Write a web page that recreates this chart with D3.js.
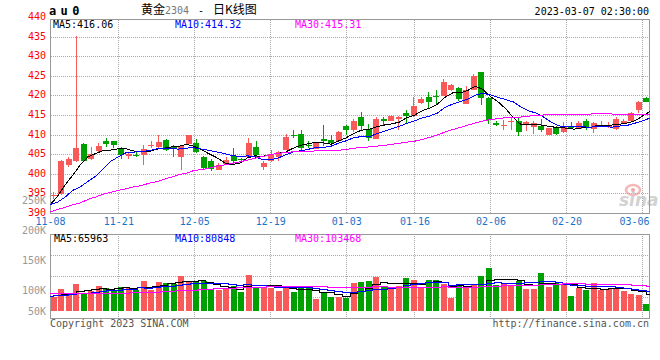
<!DOCTYPE html>
<html><head><meta charset="utf-8">
<script src="https://cdn.jsdelivr.net/npm/d3@7"></script>
<style>html,body{margin:0;padding:0;background:#fff;}svg{display:block;}</style>
</head><body>
<script>
// ---------- DATA ----------
const dates = ["11-08","11-09","11-10","11-11","11-14","11-15","11-16","11-17","11-18","11-21","11-22","11-23","11-24","11-25","11-28","11-29","11-30",
"12-01","12-02","12-05","12-06","12-07","12-08","12-09","12-12","12-13","12-14","12-15","12-16","12-19","12-20","12-21","12-22","12-23","12-26","12-27","12-28","12-29","12-30",
"01-03","01-04","01-05","01-06","01-09","01-10","01-11","01-12","01-13","01-16","01-17","01-18","01-19","01-20","01-30","01-31",
"02-01","02-02","02-03","02-06","02-07","02-08","02-09","02-10","02-13","02-14","02-15","02-16","02-17","02-20","02-21","02-22","02-23","02-24","02-27","02-28",
"03-01","03-02","03-03","03-06","03-07"];
const tickLabels = ["11-08","11-21","12-05","12-19","01-03","01-16","02-06","02-20","03-06"];
const priceTicks = [390,395,400,405,410,415,420,425,430,435,440];
const volTicks = [250000,200000,150000,100000,50000];

const open  = [394.5,394.9,402.4,403.4,407.7,403.8,405.9,408.6,408.4,406.8,404.6,405.0,404.9,407.1,407.0,408.7,407.0,404.4,407.8,408.1,
404.4,403.5,401.2,402.7,404.7,403.9,404.5,407.0,401.9,403.3,404.5,406.3,410.1,410.4,407.6,406.5,409.0,408.7,408.6,412.2,
411.2,414.6,411.6,409.0,414.1,413.7,414.0,415.6,414.8,418.1,419.8,420.1,420.1,421.5,421.9,417.9,421.6,426.0,419.5,413.2,
412.4,413.5,413.5,412.5,412.0,412.4,410.1,411.8,410.7,412.4,411.6,413.7,411.6,412.1,412.0,411.6,413.1,413.7,416.4,419.5];
const high  = [395.6,403.6,404.5,435.4,407.9,407.0,407.9,409.2,408.6,407.0,405.6,405.6,407.5,408.4,410.1,409.1,407.6,407.5,410.1,409.1,
404.7,403.9,402.8,404.4,406.6,404.2,409.3,408.4,403.3,406.3,405.9,410.4,411.4,411.4,408.6,408.0,412.7,410.0,411.0,412.5,
414.0,416.0,412.9,414.7,414.6,415.2,414.8,416.5,419.6,419.7,421.1,421.6,424.4,423.0,422.3,422.6,425.5,426.2,419.7,413.5,
413.8,414.4,414.4,413.7,413.5,414.2,411.9,412.3,413.3,413.3,413.5,414.2,413.4,413.5,413.4,414.6,414.1,415.9,418.8,419.6];
const low   = [393.7,394.8,401.9,403.2,403.2,403.7,405.7,407.0,406.7,403.9,403.9,404.3,402.5,406.7,406.7,406.0,404.5,401.1,407.6,405.4,
401.2,400.8,401.1,402.3,402.7,403.3,404.2,404.4,401.2,403.2,403.4,406.2,409.3,406.3,406.8,406.5,407.3,407.6,408.4,409.9,
410.8,411.3,408.4,408.9,412.3,413.5,411.2,413.0,414.7,417.9,417.0,417.6,419.9,421.2,418.8,417.9,421.5,417.8,412.9,412.3,
411.4,411.2,409.7,411.0,410.2,410.7,410.0,410.1,410.6,411.6,411.5,411.2,410.6,412.0,411.9,411.3,412.9,413.6,415.7,418.4];
const close = [394.8,403.3,403.8,406.8,403.4,405.1,407.3,407.7,407.4,405.0,405.1,404.6,406.5,407.6,408.2,406.3,406.4,407.3,410.0,405.6,
401.7,401.3,402.4,403.6,403.3,403.7,408.1,404.8,403.0,405.3,405.6,409.6,409.7,406.8,407.2,407.9,408.4,408.1,410.9,411.3,
413.5,412.4,409.3,414.1,413.5,415.0,414.7,415.0,417.3,419.1,418.4,419.7,423.6,422.9,419.3,421.5,425.0,419.5,413.8,412.6,
412.7,413.7,410.8,413.3,413.2,411.4,411.8,410.2,412.3,411.8,413.0,412.1,413.0,412.4,412.4,414.0,413.6,415.7,418.5,418.5];
const volume = [55400,91100,67800,114400,66300,81800,105100,95700,84900,100400,95700,86400,128300,86400,123700,120600,114400,151600,128300,122100,
128300,86400,86400,94200,105100,77100,156200,100400,100400,94200,81800,105100,77100,94200,94200,46100,74000,55400,55400,50800,
119000,123700,128300,146900,100400,94200,105100,142300,133000,94200,131000,133000,114400,50800,105100,105100,109700,152000,190000,109700,
119000,109700,130000,91100,91100,165000,100400,119000,109700,58500,95700,86400,119000,86400,91100,94200,81800,69400,63200,21200];

const ma5 = [392.2,394.4,397.3,399.8,402.42,404.48,405.28,406.06,406.18,406.50,406.50,405.96,405.72,405.76,406.40,406.64,407.00,407.16,407.64,407.12,
406.20,405.18,404.20,402.92,402.46,402.86,404.22,404.70,404.58,404.98,405.36,405.66,406.64,407.40,407.78,408.24,408.00,407.68,408.50,409.32,
410.44,411.24,411.48,412.12,412.56,412.86,413.32,414.46,415.10,416.22,416.90,417.90,419.62,420.74,420.78,421.40,422.46,421.64,419.82,418.48,
416.72,414.46,412.72,412.62,412.74,412.48,412.10,411.98,411.78,411.50,411.82,411.88,412.44,412.46,412.58,412.78,413.08,413.62,414.84,416.06];
const ma10 = [392.3,392.9,394.2,395.9,396.8,398.2,399.5,401.4,403.3,404.46,405.49,405.62,405.89,405.97,406.45,406.57,406.48,406.44,406.70,406.76,
406.42,406.09,405.68,405.28,404.79,404.53,404.70,404.45,403.75,403.72,404.11,404.94,405.67,405.99,406.38,406.80,406.83,407.16,407.95,408.55,
409.34,409.62,409.58,410.31,410.94,411.65,412.28,412.97,413.61,414.39,414.88,415.61,417.04,417.92,418.50,419.15,420.18,420.63,420.28,419.63,
419.06,418.46,417.18,416.22,415.61,414.60,413.28,412.35,412.20,412.12,412.15,411.99,412.21,412.12,412.04,412.30,412.48,413.03,413.65,414.32];
const ma30 = [390.4,391.0,391.6,392.2,392.7,393.6,394.2,394.9,395.4,395.9,396.3,396.8,397.1,397.7,398.1,398.7,399.3,399.9,400.3,401.0,
401.2,401.6,402.1,402.4,402.8,403.2,403.6,404.1,404.55,404.98,405.34,405.55,405.75,405.75,405.87,405.97,406.00,406.02,406.13,406.34,
406.62,406.88,406.98,407.19,407.37,407.66,407.94,408.19,408.44,408.89,409.44,410.06,410.76,411.41,411.94,412.53,413.10,413.59,413.95,414.19,
414.43,414.56,414.60,414.82,415.02,415.13,415.25,415.32,415.36,415.38,415.36,415.35,415.48,415.42,415.38,415.35,415.31,415.34,415.38,415.31];

const volMa5 = [58600,63300,67900,72600,79000,84280,87080,92660,86760,93580,96360,92620,99140,99440,104100,109080,114680,119340,127720,127400,
128940,123340,110300,103480,100080,89840,103800,106600,107840,105660,106600,96380,91720,90480,90480,83340,77120,72780,65020,56340,
70920,80860,95440,113740,123660,118700,114980,117780,115000,113760,121120,126700,121120,104680,106860,101680,97020,104540,132380,133300,
136080,136080,131680,111900,108180,117380,115520,113320,117040,110520,96660,93860,93860,89200,95720,95420,94500,84580,79940,65963];
const volMa10 = [57000,60000,63000,66000,70000,72000,75000,79000,82000,86290,90320,89850,95900,93100,98840,102720,103650,109240,113580,115750,
119010,119010,114820,115600,113740,109390,113570,108450,105660,102870,98220,100090,99160,99160,98070,94970,86750,82250,77750,73410,
77130,78990,84110,89380,90000,94810,97920,106610,114370,118710,119910,120840,119450,109840,110310,111400,111860,112830,118530,120080,
118880,116550,118110,122140,120740,126730,125800,122500,114470,109350,107020,104690,103590,103120,103120,96040,94180,89220,84570,80848];
const volMa30 = [68000,68000,69000,69000,69000,70000,70000,70000,71000,71000,72000,73000,74000,75000,76000,78000,80000,82000,84000,86000,
88000,90000,92000,93000,95000,96000,98000,99000,100500,101640,102520,102980,103290,102620,103550,102360,101320,99980,99000,97340,
98120,99360,99360,101380,100600,99720,99410,99100,99260,98330,98420,99970,100910,99460,99460,100390,98840,100560,103550,104070,
105310,105460,107220,107120,107020,110980,111860,113980,115790,116050,115270,114030,113720,111700,111390,111390,110610,108180,105860,103468];

// ---------- STYLE ----------
const RED = "#f85a5a", GREEN = "#00a000";
const MONO = "'DejaVu Sans Mono', 'Liberation Mono', monospace";
const CJK = "'Noto Sans CJK SC', sans-serif";
const GRID = "#aaaaaa", FRAME = "#999999";

const N = Math.min(dates.length, open.length, close.length, high.length, low.length, volume.length);
const idx = d3.range(N);

const svg = d3.select("body").append("svg").attr("width", 660).attr("height", 360)
  .style("background", "#fff");

const slot = d3.scaleBand().domain(idx).range([50, 650]);
const xL = d3.scalePoint().domain(idx).range([50, 650]);
const yP = d3.scaleLinear().domain([390, 440]).range([213.5, 17.5]);
const volTop = 234.5, volBot = 318.5, volBase = 311;
const yV = d3.scaleLinear().domain([0, 350000]).range([308.6, 233.4]);
const yVLab = d3.scaleLinear().domain([100000, 250000]).range([290.5, 200]);
const px = v => Math.floor(v) + 0.5;

const tickIdx = tickLabels.map(t => dates.indexOf(t)).filter(i => i >= 0);

// ---------- GRID ----------
const grid = svg.append("g").attr("stroke", GRID).attr("stroke-dasharray", "1,1")
  .attr("shape-rendering", "crispEdges");
priceTicks.filter(v => v > 390 && v < 440).forEach(v => {
  grid.append("line").attr("x1", 51).attr("x2", 649).attr("y1", px(yP(v))).attr("y2", px(yP(v)));
});
tickIdx.filter(i => i > 0).forEach(i => {
  const x = px(xL(i));
  grid.append("line").attr("x1", x).attr("x2", x).attr("y1", 20).attr("y2", 213);
  grid.append("line").attr("x1", x).attr("x2", x).attr("y1", volTop + 1).attr("y2", volBot);
});
[1, 2, 3].forEach(k => {
  const y = px(volTop + k * (volBot - volTop) / 4);
  grid.append("line").attr("x1", 51).attr("x2", 649).attr("y1", y).attr("y2", y);
});

// ---------- WATERMARK ----------
const wm = svg.append("g").attr("opacity", 0.75);
wm.append("ellipse").attr("cx", 633).attr("cy", 190).attr("rx", 7).attr("ry", 5)
  .attr("fill", "none").attr("stroke", "#f2a0a0").attr("stroke-width", 2.5);
wm.append("circle").attr("cx", 633).attr("cy", 190).attr("r", 2).attr("fill", "#e88");
wm.append("text").attr("x", 619).attr("y", 206).attr("font-family", "'DejaVu Sans', sans-serif")
  .attr("font-size", 17).attr("font-weight", "bold").attr("font-style", "italic")
  .attr("fill", "#c4c4c4").text("sina");

// ---------- FRAMES ----------
svg.append("rect").attr("x", 50.5).attr("y", 19.5).attr("width", 599).attr("height", 194)
  .attr("fill", "none").attr("stroke", FRAME).attr("shape-rendering", "crispEdges");
svg.append("rect").attr("x", 50.5).attr("y", volTop).attr("width", 599).attr("height", volBot - volTop)
  .attr("fill", "none").attr("stroke", FRAME).attr("shape-rendering", "crispEdges");

// ---------- CANDLES ----------
const cg = svg.append("g").attr("shape-rendering", "crispEdges");
idx.forEach(i => {
  const up = close[i] >= open[i];
  const col = up ? RED : GREEN;
  const sx = slot(i);
  const cx = Math.floor(sx + 3.5) + 0.5;
  cg.append("line").attr("x1", cx).attr("x2", cx)
    .attr("y1", yP(high[i])).attr("y2", yP(low[i])).attr("stroke", col);
  const yt = yP(Math.max(open[i], close[i])), yb = yP(Math.min(open[i], close[i]));
  cg.append("rect").attr("x", Math.round(sx + 0.5)).attr("y", yt)
    .attr("width", 6).attr("height", Math.max(1, yb - yt)).attr("fill", col);
});

// ---------- PRICE MA LINES ----------
const maLine = d3.line().x((d, i) => xL(i)).y(d => yP(d));
[[ma5, "#000"], [ma10, "#0000ff"], [ma30, "#ff00ff"]].forEach(([arr, c]) => {
  svg.append("path").datum(arr.slice(0, N)).attr("d", maLine).attr("fill", "none")
    .attr("stroke", c).attr("stroke-width", 1).attr("shape-rendering", "crispEdges");
});

// ---------- VOLUME BARS ----------
const vg = svg.append("g").attr("shape-rendering", "crispEdges");
idx.forEach(i => {
  const col = close[i] >= open[i] ? RED : GREEN;
  const y = yV(volume[i]);
  vg.append("rect").attr("x", Math.round(slot(i) + 0.5)).attr("y", y)
    .attr("width", 6).attr("height", Math.max(1, volBase - y)).attr("fill", col);
});
const vLine = d3.line().x((d, i) => xL(i)).y(d => yV(d)).curve(d3.curveStep);
[[volMa5, "#000"], [volMa10, "#0000ff"], [volMa30, "#ff00ff"]].forEach(([arr, c]) => {
  svg.append("path").datum(arr.slice(0, N)).attr("d", vLine).attr("fill", "none")
    .attr("stroke", c).attr("stroke-width", 1).attr("shape-rendering", "crispEdges");
});

// ---------- AXES ----------
const yAxis = svg.append("g").attr("transform", "translate(50,0)")
  .call(d3.axisLeft(yP).tickValues(priceTicks).tickSize(0).tickPadding(4).tickFormat(d3.format("d")));
yAxis.select(".domain").remove();
yAxis.selectAll("text").attr("fill", "#f00").attr("font-family", MONO).attr("font-size", 10)
  .attr("dy", "0.2em");

const xAxis = svg.append("g").attr("transform", "translate(0,213.5)")
  .call(d3.axisBottom(xL).tickValues(tickIdx).tickSize(0).tickPadding(4.2).tickFormat(i => dates[i]));
xAxis.select(".domain").remove();
xAxis.selectAll("text").attr("fill", "#1a73c8").attr("font-family", MONO).attr("font-size", 10)
  .each(function(i) {
    const w = this.getComputedTextLength();
    const c = xL(i);
    if (c + w / 2 > 649) d3.select(this).attr("x", 649 - w / 2 - c);
  });

svg.append("g").selectAll("text").data(volTicks).join("text")
  .attr("x", 46).attr("y", v => Math.min(yVLab(v), 311) + 3.5)
  .attr("text-anchor", "end").attr("font-family", MONO).attr("font-size", 10)
  .attr("fill", "#999").text(v => (v / 1000) + "K");

// ---------- HEADER / LEGENDS ----------
svg.append("text").attr("x", 49).attr("y", 15).attr("font-family", MONO).attr("font-size", 12)
  .attr("font-weight", "bold").attr("letter-spacing", "4.4px").attr("fill", "#000").text("au0");
const tg = svg.append("g").attr("fill", "#000");
tg.append("text").attr("x", 141).attr("y", 14).attr("font-family", CJK).attr("font-size", 12).text("黄金");
tg.append("text").attr("x", 165).attr("y", 14).attr("font-family", MONO).attr("font-size", 10).attr("fill", "#777").text("2304");
tg.append("text").attr("x", 198).attr("y", 14).attr("font-family", MONO).attr("font-size", 10).text("-");
tg.append("text").attr("x", 213).attr("y", 14).attr("font-family", CJK).attr("font-size", 12).text("日K线图");
svg.append("text").attr("x", 649).attr("y", 15).attr("text-anchor", "end").attr("font-family", MONO)
  .attr("font-size", 10).attr("fill", "#000").text("2023-03-07 02:30:00");

const L = N - 1;
const legends = [
  [53, 27.5, "#000", "MA5:" + ma5[L].toFixed(2)],
  [175, 27.5, "#0000ff", "MA10:" + ma10[L].toFixed(2)],
  [295, 27.5, "#ff00ff", "MA30:" + ma30[L].toFixed(2)],
  [54, 242, "#000", "MA5:" + Math.round(volMa5[L])],
  [175, 242, "#0000ff", "MA10:" + Math.round(volMa10[L])],
  [295, 242, "#ff00ff", "MA30:" + Math.round(volMa30[L])]
];
svg.append("g").selectAll("text").data(legends).join("text")
  .attr("x", d => d[0]).attr("y", d => d[1]).attr("fill", d => d[2])
  .attr("font-family", MONO).attr("font-size", 10).text(d => d[3]);

svg.append("text").attr("x", 50).attr("y", 326.5).attr("font-family", MONO).attr("font-size", 10)
  .attr("fill", "#555").text("Copyright 2023 SINA.COM");
svg.append("text").attr("x", 649).attr("y", 326.5).attr("text-anchor", "end").attr("font-family", MONO)
  .attr("font-size", 10).attr("fill", "#555").text("http://finance.sina.com.cn");
</script>
</body></html>
